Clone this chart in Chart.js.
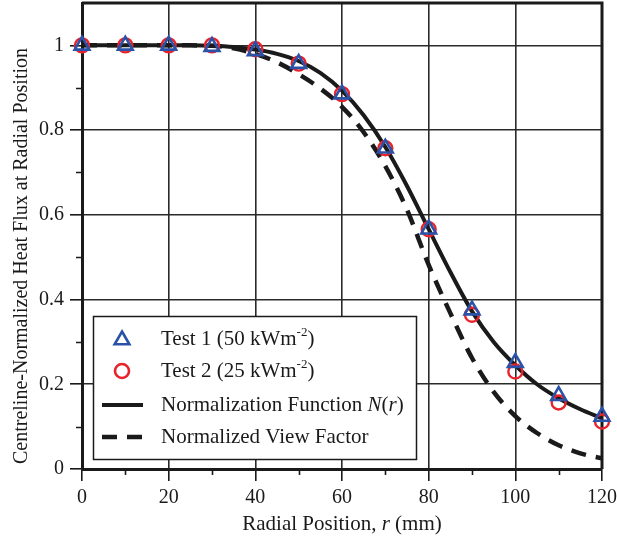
<!DOCTYPE html>
<html>
<head>
<meta charset="utf-8">
<title>Centreline-normalized heat flux</title>
<script src="https://cdn.jsdelivr.net/npm/chart.js@4.4.1/dist/chart.umd.min.js"></script>
<style>
  html, body { margin: 0; padding: 0; background: #fff; }
  #wrap { width: 617px; height: 540px; }
</style>
</head>
<body>
<div id="wrap"><canvas id="fluxChart" width="617" height="540"></canvas></div>
<script>
// measured points (r in mm)
const radius = [0, 10, 20, 30, 40, 50, 60, 70, 80, 90, 100, 110, 120];
const test1 = [1, 1, 1, 0.997, 0.987, 0.957, 0.885, 0.757, 0.566, 0.375, 0.251, 0.173, 0.124];
const test2 = [1, 1, 1, 1, 0.991, 0.957, 0.885, 0.757, 0.566, 0.364, 0.23, 0.157, 0.112];

const curveR = [0, 5, 10, 15, 20, 25, 30, 35, 40, 45, 50, 55, 60, 65, 70, 75, 80, 85, 90, 95, 100, 105, 110, 115, 120];
const normFunction = [1, 1, 1, 1, 1, 1, 0.999, 0.996, 0.99, 0.98, 0.963, 0.935, 0.893, 0.835, 0.76, 0.668, 0.566, 0.465, 0.372, 0.3, 0.245, 0.2, 0.167, 0.141, 0.12];
const viewFactor = [1, 1, 1, 1, 1, 1, 0.999, 0.993, 0.98, 0.96, 0.932, 0.898, 0.855, 0.795, 0.715, 0.612, 0.482, 0.368, 0.262, 0.182, 0.125, 0.085, 0.056, 0.037, 0.025];

const xTicks = [0, 20, 40, 60, 80, 100, 120];
const xMinorTicks = [10, 30, 50, 70, 90, 110];
const yTicks = [0, 0.2, 0.4, 0.6, 0.8, 1];
const yTickLabels = ['0', '0.2', '0.4', '0.6', '0.8', '1'];
const yMinorTicks = [0.1, 0.3, 0.5, 0.7, 0.9];

const seriesLabels = ['Test 1 (50 kWm-2)', 'Test 2 (25 kWm-2)', 'Normalization Function N(r)', 'Normalized View Factor'];
// same labels split into runs for italic / superscript
const legendRuns = [
    [{ t: 'Test 1 (50 kWm' }, { t: '-2', sup: true }, { t: ')' }],
    [{ t: 'Test 2 (25 kWm' }, { t: '-2', sup: true }, { t: ')' }],
    [{ t: 'Normalization Function ' }, { t: 'N', it: true }, { t: '(' }, { t: 'r', it: true }, { t: ')' }],
    [{ t: 'Normalized View Factor' }]
];
const xTitleRuns = [{ t: 'Radial Position, ' }, { t: 'r', it: true }, { t: ' (mm)' }];
const yTitle = 'Centreline-Normalized Heat Flux at Radial Position';

const FONT = '"Liberation Serif", "Times New Roman", serif';
const INK = '#1a1a1a';
const BLUE = '#2a52a8';
const RED = '#e8232b';

function pairs(xs, ys) {
    return xs.map((x, i) => ({ x: x, y: ys[i] }));
}

function runsWidth(ctx, runs, size) {
    let w = 0;
    runs.forEach(r => {
        ctx.font = (r.it ? 'italic ' : '') + (r.sup ? Math.round(size * 0.62) : size) + 'px ' + FONT;
        w += ctx.measureText(r.t).width;
    });
    return w;
}

function drawRuns(ctx, runs, x, y, size) {
    ctx.textAlign = 'left';
    ctx.textBaseline = 'middle';
    runs.forEach(r => {
        ctx.font = (r.it ? 'italic ' : '') + (r.sup ? Math.round(size * 0.62) : size) + 'px ' + FONT;
        ctx.fillText(r.t, x, r.sup ? y - size * 0.3 : y);
        x += ctx.measureText(r.t).width;
    });
}

// minor ticks + top/right frame
const framePlugin = {
    id: 'frame',
    beforeDatasetsDraw(chart) {
        const ctx = chart.ctx, a = chart.chartArea;
        const xs = chart.scales.x, ys = chart.scales.y;
        ctx.save();
        ctx.strokeStyle = INK;
        ctx.lineWidth = 1.6;
        ctx.beginPath();
        yMinorTicks.forEach(v => {
            const py = Math.round(ys.getPixelForValue(v)) + 0.5;
            ctx.moveTo(a.left - 6, py);
            ctx.lineTo(a.left, py);
        });
        xMinorTicks.forEach(v => {
            const px = Math.round(xs.getPixelForValue(v)) + 0.5;
            ctx.moveTo(px, a.bottom);
            ctx.lineTo(px, a.bottom + 6);
        });
        ctx.stroke();
        ctx.lineWidth = 3;
        ctx.beginPath();
        ctx.moveTo(a.left, a.top);
        ctx.lineTo(a.right, a.top);
        ctx.lineTo(a.right, a.bottom);
        ctx.stroke();
        ctx.restore();
    }
};

// axis titles and the boxed legend
const textPlugin = {
    id: 'texts',
    afterDraw(chart) {
        const ctx = chart.ctx, a = chart.chartArea;
        ctx.save();
        ctx.fillStyle = INK;

        // y title
        ctx.save();
        ctx.translate(22, 256);
        ctx.rotate(-Math.PI / 2);
        ctx.font = '20px ' + FONT;
        ctx.textAlign = 'center';
        ctx.textBaseline = 'middle';
        ctx.fillText(yTitle, 0, 0);
        ctx.restore();

        // x title
        const tw = runsWidth(ctx, xTitleRuns, 21);
        drawRuns(ctx, xTitleRuns, (a.left + a.right) / 2 - tw / 2, 524, 21);

        // legend
        const bx = 93.5, by = 316.5, bw = 323, bh = 143;
        ctx.fillStyle = '#fff';
        ctx.fillRect(bx, by, bw, bh);
        ctx.strokeStyle = INK;
        ctx.lineWidth = 1.5;
        ctx.strokeRect(bx, by, bw, bh);

        const rows = [339, 371, 405, 437];
        const sx = 122;
        const ds = chart.data.datasets;

        // triangle
        ctx.strokeStyle = BLUE;
        ctx.lineWidth = 2.6;
        ctx.beginPath();
        for (let k = 0; k < 3; k++) {
            const ang = k * 2 * Math.PI / 3;
            const px = sx + Math.sin(ang) * 8.5, py = rows[0] + 1 - Math.cos(ang) * 8.5;
            if (k === 0) ctx.moveTo(px, py); else ctx.lineTo(px, py);
        }
        ctx.closePath();
        ctx.stroke();

        // circle
        ctx.strokeStyle = RED;
        ctx.beginPath();
        ctx.arc(sx, rows[1], 7, 0, 2 * Math.PI);
        ctx.stroke();

        // solid + dashed
        ctx.strokeStyle = INK;
        ctx.lineWidth = ds[2].borderWidth;
        ctx.beginPath();
        ctx.moveTo(102, rows[2]);
        ctx.lineTo(143, rows[2]);
        ctx.stroke();
        ctx.lineWidth = ds[3].borderWidth;
        ctx.setLineDash(ds[3].borderDash);
        ctx.beginPath();
        ctx.moveTo(102, rows[3]);
        ctx.lineTo(143, rows[3]);
        ctx.stroke();
        ctx.setLineDash([]);

        ctx.fillStyle = INK;
        legendRuns.forEach((runs, i) => drawRuns(ctx, runs, 161, rows[i], 21));
        ctx.restore();
    }
};

function createChart() {
    const ctx = document.getElementById('fluxChart');
    new Chart(ctx, {
        type: 'scatter',
        data: {
            datasets: [{
                    label: seriesLabels[0],
                    data: pairs(radius, test1),
                    pointStyle: 'triangle',
                    pointRadius: 8.5,
                    borderColor: BLUE,
                    backgroundColor: 'rgba(0,0,0,0)',
                    pointBorderWidth: 2.6,
                    clip: false
                },
                {
                    label: seriesLabels[1],
                    data: pairs(radius, test2),
                    pointStyle: 'circle',
                    pointRadius: 7,
                    borderColor: RED,
                    backgroundColor: 'rgba(0,0,0,0)',
                    pointBorderWidth: 2.4,
                    clip: false
                },
                {
                    label: seriesLabels[2],
                    data: pairs(curveR, normFunction),
                    showLine: true,
                    pointRadius: 0,
                    borderColor: INK,
                    borderWidth: 4,
                    cubicInterpolationMode: 'monotone'
                },
                {
                    label: seriesLabels[3],
                    data: pairs(curveR, viewFactor),
                    showLine: true,
                    pointRadius: 0,
                    borderColor: INK,
                    borderWidth: 4.5,
                    borderDash: [15, 10],
                    cubicInterpolationMode: 'monotone'
                }
            ]
        },
        options: {
            responsive: false,
            animation: false,
            layout: { autoPadding: false, padding: { top: 3, right: 15, left: 0, bottom: 0 } },
            plugins: {
                legend: { display: false },
                tooltip: { enabled: false }
            },
            scales: {
                x: {
                    type: 'linear',
                    min: 0,
                    max: 120,
                    afterBuildTicks: s => { s.ticks = xTicks.map(v => ({ value: v })); },
                    afterFit: s => { s.height = 71; s.paddingLeft = 0; s.paddingRight = 0; },
                    ticks: {
                        color: INK,
                        padding: 5,
                        maxRotation: 0,
                        font: { family: FONT, size: 20 }
                    },
                    grid: { color: '#2a2a2a', lineWidth: 1.6, tickLength: 12, tickColor: INK },
                    border: { color: INK, width: 3 }
                },
                y: {
                    min: 0,
                    max: 1.1,
                    afterBuildTicks: s => { s.ticks = yTicks.map(v => ({ value: v })); },
                    afterFit: s => { s.width = 82; s.paddingTop = 0; s.paddingBottom = 0; },
                    ticks: {
                        color: INK,
                        padding: 6,
                        font: { family: FONT, size: 20 },
                        callback: (v, i) => yTickLabels[i]
                    },
                    grid: { color: '#2a2a2a', lineWidth: 1.6, tickLength: 12, tickColor: INK },
                    border: { color: INK, width: 3 }
                }
            }
        },
        plugins: [framePlugin, textPlugin]
    });
}

document.addEventListener('DOMContentLoaded', function() {
    if (typeof Chart !== 'undefined') {
        createChart();
    }
});
</script>
</body>
</html>
